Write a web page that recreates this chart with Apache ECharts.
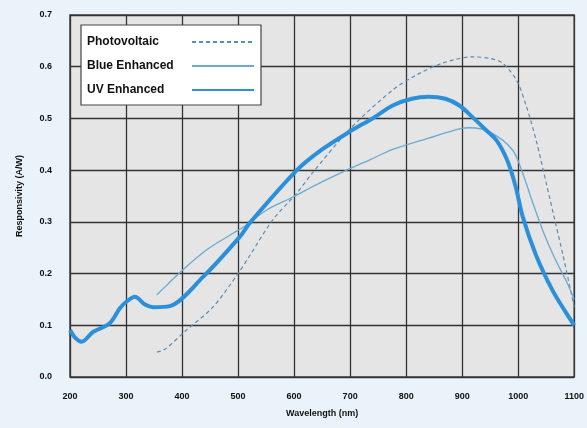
<!DOCTYPE html>
<html><head><meta charset="utf-8">
<script src="https://cdn.jsdelivr.net/npm/echarts@6/dist/echarts.min.js"></script>
<style>html,body{margin:0;padding:0;background:#eaf2fa;}#c{width:587px;height:428px;}</style>
</head><body><div id="c"></div>
<script>
var xTicks = [200, 300, 400, 500, 600, 700, 800, 900, 1000, 1100];
var yTicks = [0.0, 0.1, 0.2, 0.3, 0.4, 0.5, 0.6, 0.7];
var seriesNames = ['Photovoltaic', 'Blue Enhanced', 'UV Enhanced'];

var pvWave = [355, 370, 408, 455, 500, 521, 562, 605, 633, 700, 776, 820, 865, 918, 950, 972, 997, 1015, 1032, 1050, 1065, 1080, 1095, 1100];
var pvResp = [0.048, 0.054, 0.091, 0.135, 0.200, 0.235, 0.304, 0.356, 0.395, 0.480, 0.555, 0.585, 0.607, 0.619, 0.616, 0.607, 0.574, 0.522, 0.458, 0.375, 0.305, 0.235, 0.160, 0.135];

var beWave = [355, 375, 401, 444, 491, 515, 551, 598, 640, 690, 735, 776, 840, 895, 913, 949, 990, 1008, 1025, 1045, 1065, 1086, 1100];
var beResp = [0.159, 0.180, 0.207, 0.246, 0.278, 0.294, 0.323, 0.348, 0.372, 0.398, 0.420, 0.440, 0.462, 0.480, 0.482, 0.474, 0.439, 0.394, 0.340, 0.280, 0.230, 0.185, 0.150];

var uvWave = [200, 210, 221, 241, 271, 289, 300, 316, 334, 348, 378, 437, 503, 521, 605, 650, 700, 740, 776, 810, 840, 870, 895, 918, 940, 961, 980, 995, 1008, 1032, 1061, 1085, 1100];
var uvResp = [0.091, 0.075, 0.068, 0.087, 0.104, 0.133, 0.145, 0.155, 0.140, 0.135, 0.137, 0.193, 0.271, 0.298, 0.400, 0.440, 0.475, 0.500, 0.525, 0.538, 0.542, 0.538, 0.525, 0.503, 0.480, 0.458, 0.420, 0.370, 0.310, 0.235, 0.168, 0.125, 0.100];

function zip(a, b) { return a.map(function (v, i) { return [v, b[i]]; }); }

var chart = echarts.init(document.getElementById('c'), null, {renderer: 'canvas'});
var lbl = {fontFamily: 'Liberation Sans, Arial, sans-serif', fontWeight: 'bold', fontSize: 9, color: '#111'};
chart.setOption({
  backgroundColor: '#eaf2fa',
  animation: false,
  grid: {left: 70, right: 12, top: 15, bottom: 51, show: true, backgroundColor: '#e5e5e5', borderColor: '#444', borderWidth: 1.5},
  xAxis: {
    type: 'value', min: xTicks[0], max: xTicks[xTicks.length - 1], interval: 100,
    name: 'Wavelength (nm)', nameLocation: 'middle', nameGap: 32,
    nameTextStyle: lbl,
    axisLine: {show: false}, axisTick: {show: false},
    axisLabel: Object.assign({margin: 15, formatter: function (v) { return String(v); }}, lbl),
    splitLine: {show: true, lineStyle: {color: '#333', width: 1.3}}
  },
  yAxis: {
    type: 'value', min: yTicks[0], max: yTicks[yTicks.length - 1], interval: 0.1,
    name: 'Responsivity (A/W)', nameLocation: 'middle', nameGap: 46,
    nameTextStyle: lbl,
    axisLine: {show: false}, axisTick: {show: false},
    axisLabel: Object.assign({margin: 18, formatter: function (v) { return v.toFixed(1); }}, lbl),
    splitLine: {show: true, lineStyle: {color: '#333', width: 1.3}}
  },
  legend: {
    orient: 'vertical', left: 81, top: 25, align: 'right',
    backgroundColor: '#fff', borderColor: '#444', borderWidth: 1.2, borderRadius: 0,
    padding: [11, 6, 9, 6], itemGap: 12, itemWidth: 62, itemHeight: 12,
    itemStyle: {opacity: 0},
    formatter: function (name) { return '{n|' + name + '}'; },
    textStyle: {fontFamily: 'Liberation Sans, Arial, sans-serif', fontWeight: 'bold', fontSize: 12, color: '#111',
      rich: {n: {width: 100, align: 'left', fontFamily: 'Liberation Sans, Arial, sans-serif', fontWeight: 'bold', fontSize: 12, color: '#111'}}},
    data: seriesNames
  },
  series: [
    {name: seriesNames[0], type: 'line', showSymbol: false, symbol: 'none', smooth: 0.3,
     data: zip(pvWave, pvResp), lineStyle: {color: '#5d8db3', width: 1.2, type: [4, 3]}, itemStyle: {color: '#5d8db3'}},
    {name: seriesNames[1], type: 'line', showSymbol: false, symbol: 'none', smooth: 0.3,
     data: zip(beWave, beResp), lineStyle: {color: '#6aa9d2', width: 1.3}, itemStyle: {color: '#6aa9d2'}},
    {name: seriesNames[2], type: 'line', showSymbol: false, symbol: 'none', smooth: 0.3,
     data: zip(uvWave, uvResp), lineStyle: {color: '#2b8fda', width: 4}, itemStyle: {color: '#2b8fda'}}
  ]
});
</script></body></html>
